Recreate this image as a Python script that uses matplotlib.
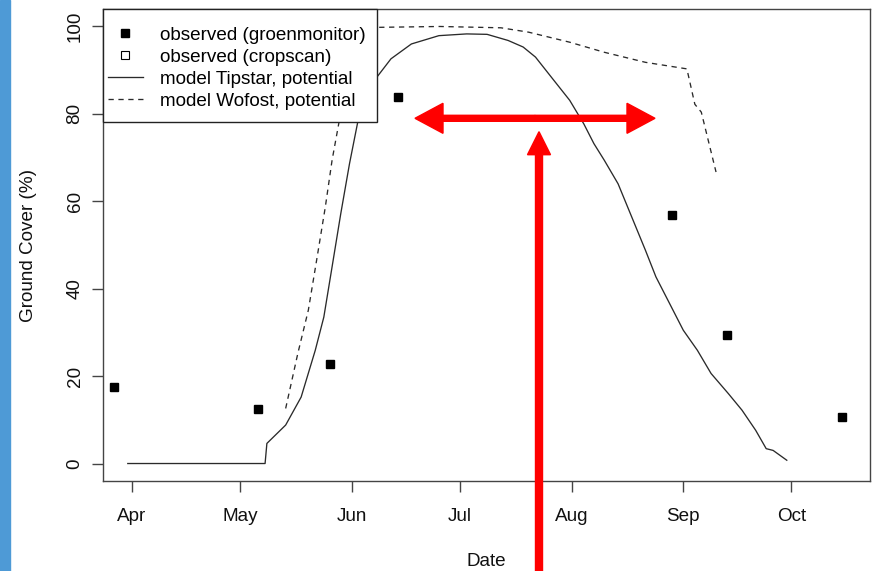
import numpy as np
import matplotlib
matplotlib.use("Agg")
import matplotlib.pyplot as plt
import matplotlib.dates as mdates
from matplotlib.lines import Line2D
from matplotlib.patches import FancyArrow, Rectangle
from matplotlib.transforms import IdentityTransform

plt.rcParams['font.family'] = ['Liberation Sans', 'DejaVu Sans']

# day of year (2015) and ground cover (%)
obs_doy = [86, 126, 146, 165, 241, 256, 288]
obs_cover = [17.5, 12.4, 22.7, 83.8, 56.9, 29.3, 10.7]

tip_doy = [89.9, 128.0, 128.5, 133.7, 138.0, 141.9, 144.3, 146.6, 149.0, 151.4,
           153.8, 156.3, 159.0, 162.9, 168.6, 176.2, 183.9, 189.6, 195.4, 199.6,
           203.0, 207.8, 212.5, 216.4, 219.2, 222.1, 225.9, 229.7, 233.5, 236.4,
           240.2, 244.0, 247.9, 251.7, 256.5, 260.3, 264.1, 267.0, 268.9, 272.7]
tip_cover = [0, 0, 4.6, 8.8, 15.2, 25.9, 33.5, 45.0, 57.2, 68.6,
             78.5, 84.0, 88.4, 92.6, 96.0, 97.9, 98.3, 98.2, 96.8, 95.3,
             93.0, 88.0, 83.1, 77.7, 73.2, 69.4, 64.0, 56.4, 48.8, 42.7,
             36.6, 30.5, 25.9, 20.6, 16.0, 12.2, 7.6, 3.4, 3.0, 0.75]

wof_doy = [133.7, 137.1, 140.0, 142.3, 144.7, 146.6, 148.4, 151.0, 154.0, 159.0,
           176.5, 193.4, 201.1, 212.5, 222.1, 233.5, 245.0, 247.2, 249.0, 253.1]
wof_cover = [12.6, 25.2, 35.1, 46.5, 58.7, 69.4, 77.7, 91.0, 99.0, 99.8,
             100.0, 99.7, 98.7, 96.4, 94.1, 91.8, 90.3, 82.2, 80.4, 66.7]

x_range = (83.04, 295.8)
y_ticks = [0, 20, 40, 60, 80, 100]

base = np.datetime64('2015-01-01T00:00')


def to_date(doy):
    hours = np.round((np.asarray(doy, dtype=float) - 1) * 24).astype(int)
    return base + hours.astype('timedelta64[h]')


fig = plt.figure(figsize=(8.74, 5.71), dpi=100)
fig.add_artist(Rectangle((0, 0), 10 / 874, 1, transform=fig.transFigure,
                         color='#4E9AD6', zorder=0))
ax = fig.add_axes([103 / 874, 1 - 481 / 571, (870 - 103) / 874, (481 - 9) / 571])

line_col = '#2a2a2a'
ax.plot(to_date(tip_doy), tip_cover, color=line_col, lw=0.95)
ax.plot(to_date(wof_doy), wof_cover, color=line_col, lw=0.95, dashes=(4, 3.5))
ax.plot(to_date(obs_doy), obs_cover, 's', color='black', ms=5.8, ls='none')

ax.set_xlim(to_date(x_range))
ax.set_ylim(-4, 104)
ax.xaxis.set_major_locator(mdates.MonthLocator(bymonth=range(4, 11)))
ax.xaxis.set_major_formatter(mdates.DateFormatter('%b'))
ax.set_yticks(y_ticks)
ax.set_yticklabels([str(v) for v in y_ticks], rotation=90, va='center')

for s in ax.spines.values():
    s.set_color('#444444')
    s.set_linewidth(1)
ax.tick_params(length=8, width=1, color='#444444', labelsize=13.6, labelcolor='#111111')
ax.tick_params(axis='x', pad=11.5)
ax.tick_params(axis='y', pad=6)

ax.set_xlabel('Date', fontsize=13.6, labelpad=20, color='#111111')
ax.set_ylabel('Ground Cover (%)', fontsize=13.6, labelpad=21, color='#111111')

# legend box drawn by hand (R style), entries on top of it
tr = IdentityTransform()
ax.add_patch(Rectangle((103, 571 - 121.7), 376.7 - 103, 121.7 - 9, transform=tr,
                       facecolor='white', edgecolor='#222222', lw=1,
                       clip_on=False, zorder=4))
handles = [
    Line2D([], [], marker='s', color='black', ls='none', ms=5.8),
    Line2D([], [], marker='s', mfc='white', mec='black', ls='none', ms=5.8, mew=0.8),
    Line2D([], [], color=line_col, lw=0.95),
    Line2D([], [], color=line_col, lw=0.95, dashes=(4, 3.5)),
]
labels = ['observed (groenmonitor)', 'observed (cropscan)',
          'model Tipstar, potential', 'model Wofost, potential']
leg = ax.legend(handles, labels, loc='upper left', bbox_to_anchor=(108, 571 - 26.5),
                bbox_transform=tr, borderaxespad=0, borderpad=0, fontsize=13.6,
                frameon=False, labelspacing=0.25, handlelength=1.85,
                handletextpad=0.9)
leg.set_zorder(5)

# red overlay arrows (figure pixels)
red = '#FF0000'
for dx in (-120, 120):
    fig.add_artist(FancyArrow(535, 452.7, dx, 0, width=6, head_width=30,
                              head_length=28, length_includes_head=True,
                              color=red, transform=tr, zorder=10))
fig.add_artist(FancyArrow(539, 0, 0, 439.3, width=7, head_width=23,
                          head_length=23, length_includes_head=True,
                          color=red, transform=tr, zorder=10))

fig.savefig('out.png', dpi=100)
